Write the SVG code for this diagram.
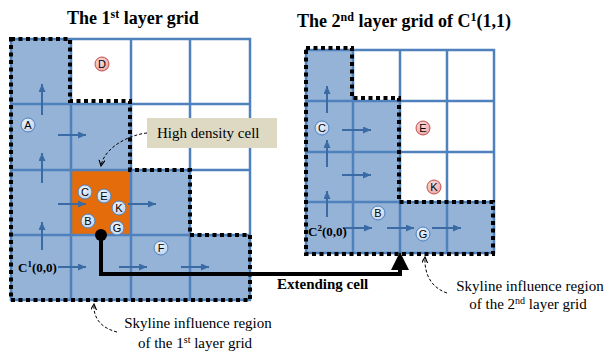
<svg xmlns="http://www.w3.org/2000/svg" width="608" height="354" viewBox="0 0 608 354">
<style>
.title{font-family:"Liberation Serif",serif;font-weight:bold;font-size:18px;fill:#000}
.lbl{font-family:"Liberation Serif",serif;font-size:15px;fill:#000}
.blbl{font-family:"Liberation Serif",serif;font-weight:bold;font-size:13px;fill:#000}
.shade{fill:#95b3d7}
.grid{fill:none;stroke:#4f81bd;stroke-width:2.5}
.dot{fill:none;stroke:#000;stroke-width:4;stroke-dasharray:4 3.5}
.ar{stroke:#3a6ba5;stroke-width:2;fill:none;marker-end:url(#ah)}
.pb{fill:url(#gb);stroke:#4f81bd;stroke-width:1}
.pr{fill:url(#gr);stroke:#c0504d;stroke-width:1}
.pt{font-family:"Liberation Sans",sans-serif;font-size:11px;text-anchor:middle;fill:#000}
.dash{fill:none;stroke:#000;stroke-width:1;stroke-dasharray:3 2}
</style>
<defs>
<marker id="ah" markerUnits="userSpaceOnUse" markerWidth="10" markerHeight="8" refX="8" refY="3.5" orient="auto">
<path d="M0,0 L8,3.5 L0,7 z" fill="#3a6ba5"/>
</marker>
<marker id="oh" markerUnits="userSpaceOnUse" markerWidth="8" markerHeight="8" refX="6" refY="3" orient="auto">
<path d="M0,0 L6,3 L0,6" fill="none" stroke="#000" stroke-width="1.2"/>
</marker>
<radialGradient id="gb" cx="0.4" cy="0.35" r="0.7">
<stop offset="0" stop-color="#f2f6fc"/><stop offset="1" stop-color="#bcd1ee"/>
</radialGradient>
<radialGradient id="gr" cx="0.4" cy="0.35" r="0.7">
<stop offset="0" stop-color="#fbe1e0"/><stop offset="1" stop-color="#eea3a1"/>
</radialGradient>
</defs>

<text class="title" x="67" y="24">The 1<tspan font-size="12" dy="-6">st</tspan><tspan dy="6"> layer grid</tspan></text>
<text class="title" x="297" y="27">The 2<tspan font-size="12" dy="-6">nd</tspan><tspan dy="6"> layer grid of C</tspan><tspan font-size="12" dy="-6">1</tspan><tspan dy="6">(1,1)</tspan></text>

<g id="grid1">
<path class="shade" d="M11,39 H71 V104 H131 V170 H190 V235 H250 V300 H11 Z"/>
<rect x="71" y="170" width="60" height="65" fill="#e46c0a"/>
<rect class="grid" x="11" y="39" width="239" height="261"/>
<path class="grid" d="M71,39 V300 M131,39 V300 M190,39 V300 M11,104 H250 M11,170 H250 M11,235 H250"/>
<path class="dot" d="M11,39 H70 V101 H130 V170 H190 V235 H250 V300 H11 Z"/>
<line class="ar" x1="42" y1="115" x2="42" y2="84"/>
<line class="ar" x1="42" y1="183" x2="42" y2="153"/>
<line class="ar" x1="42" y1="250" x2="42" y2="222"/>
<line class="ar" x1="58" y1="135" x2="86" y2="135"/>
<line class="ar" x1="58" y1="204" x2="86" y2="204"/>
<line class="ar" x1="128" y1="204" x2="156" y2="204"/>
<line class="ar" x1="58" y1="267" x2="86" y2="267"/>
<line class="ar" x1="119" y1="267" x2="147" y2="267"/>
<line class="ar" x1="181" y1="267" x2="209" y2="267"/>
<text class="blbl" x="18" y="272">C<tspan font-size="9" dy="-5">1</tspan><tspan dy="5">(0,0)</tspan></text>
</g>

<g id="points1">
<circle class="pr" cx="102" cy="64" r="7"/><text class="pt" x="102" y="68">D</text>
<circle class="pb" cx="28" cy="125" r="7"/><text class="pt" x="28" y="129">A</text>
<circle class="pb" cx="85" cy="192" r="7"/><text class="pt" x="85" y="196">C</text>
<circle class="pb" cx="104" cy="196" r="7"/><text class="pt" x="104" y="200">E</text>
<circle class="pb" cx="119" cy="208" r="7"/><text class="pt" x="119" y="212">K</text>
<circle class="pb" cx="88" cy="221" r="7"/><text class="pt" x="88" y="225">B</text>
<circle class="pb" cx="117" cy="228" r="7"/><text class="pt" x="117" y="232">G</text>
<circle class="pb" cx="161" cy="248" r="7"/><text class="pt" x="161" y="252">F</text>
</g>

<g id="grid2">
<path class="shade" d="M306,50 H353 V101 H400 V202 H494 V253 H306 Z"/>
<rect class="grid" x="306" y="50" width="188" height="203"/>
<path class="grid" d="M353,50 V253 M400,50 V253 M447,50 V253 M306,101 H494 M306,152 H494 M306,202 H494"/>
<path class="dot" d="M306,48 H352 V98 H399 V202 H493 V254 H306 Z"/>
<line class="ar" x1="327" y1="113" x2="327" y2="86"/>
<line class="ar" x1="327" y1="167" x2="327" y2="140"/>
<line class="ar" x1="327" y1="217" x2="327" y2="191"/>
<line class="ar" x1="342" y1="130" x2="371" y2="130"/>
<line class="ar" x1="342" y1="175" x2="371" y2="175"/>
<line class="ar" x1="343" y1="228" x2="372" y2="228"/>
<line class="ar" x1="387" y1="228" x2="414" y2="228"/>
<line class="ar" x1="432" y1="228" x2="461" y2="228"/>
<text class="blbl" x="308" y="236">C<tspan font-size="9" dy="-5">2</tspan><tspan dy="5">(0,0)</tspan></text>
</g>

<g id="points2">
<circle class="pb" cx="322" cy="128" r="7"/><text class="pt" x="322" y="132">C</text>
<circle class="pr" cx="423" cy="128" r="7"/><text class="pt" x="423" y="132">E</text>
<circle class="pr" cx="434" cy="187" r="7"/><text class="pt" x="434" y="191">K</text>
<circle class="pb" cx="378" cy="213" r="7"/><text class="pt" x="378" y="217">B</text>
<circle class="pb" cx="423" cy="234" r="7"/><text class="pt" x="423" y="238">G</text>
</g>

<g id="hd-label">
<rect x="147" y="118" width="130" height="30" fill="#ddd9c3"/>
<text class="lbl" x="157" y="138">High density cell</text>
</g>

<g id="sky1-label">
<text class="lbl" x="198" y="328" text-anchor="middle">Skyline influence region</text>
<text class="lbl" x="195" y="348" text-anchor="middle">of the 1<tspan font-size="10" dy="-5">st</tspan><tspan dy="5"> layer grid</tspan></text>
</g>

<g id="sky2-label">
<text class="lbl" x="530" y="291" text-anchor="middle">Skyline influence region</text>
<text class="lbl" x="528" y="309" text-anchor="middle">of the 2<tspan font-size="10" dy="-5">nd</tspan><tspan dy="5"> layer grid</tspan></text>
</g>

<g id="extend-label">
<text class="lbl" x="277" y="289" font-weight="bold">Extending cell</text>
</g>

<g id="connectors">
<path class="dash" d="M147,133 C128,135 104,148 101,166" marker-end="url(#oh)"/>
<path class="dash" d="M117,332 C101,328 93,318 94,304" marker-end="url(#oh)"/>
<path class="dash" d="M447,293 C432,288 424,275 425,257" marker-end="url(#oh)"/>
<circle cx="101" cy="235" r="6" fill="#000"/>
<path d="M101,235 V274 H400 V266" fill="none" stroke="#000" stroke-width="4"/>
<polygon points="400,252 391,270 409,270" fill="#000"/>
</g>
</svg>
